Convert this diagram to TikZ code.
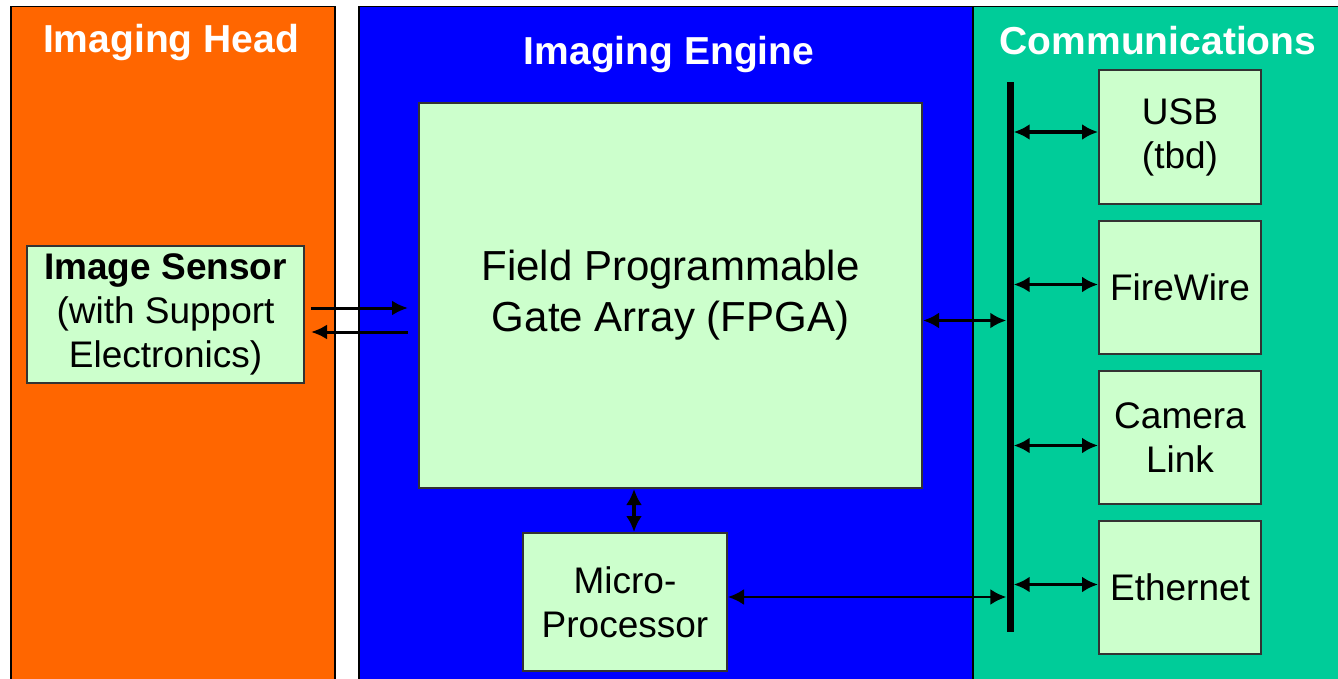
\documentclass[tikz,border=0pt]{standalone}
\usepackage{fontspec}
\setmainfont{Liberation Sans}
\usetikzlibrary{arrows.meta}
\definecolor{headorange}{HTML}{FF6600}
\definecolor{engineblue}{HTML}{0000FF}
\definecolor{commteal}{HTML}{00CC99}
\definecolor{boxgreen}{HTML}{CCFFCC}
\begin{document}
\begin{tikzpicture}
    [x=1pt, y=-1pt,
     panel/.style={draw=black, line width=1.5pt, anchor=north west, inner sep=0pt},
     title/.style={text=white, font=\fontsize{39}{44}\selectfont\bfseries},
     block/.style={draw=black!80, line width=2pt, fill=boxgreen, anchor=north west, inner sep=0pt, align=center, font=\fontsize{37}{44}\selectfont},
     link/.style={{Latex[length=16pt,width=16pt]}-{Latex[length=16pt,width=16pt]}, line width=3.5pt},
     oneway/.style={-{Latex[length=16pt,width=15pt]}, line width=3pt}]
    \useasboundingbox (0,0) rectangle (1338,679);
    % panels
    \node[panel, fill=headorange, minimum width=324pt, minimum height=690pt] (head) at (10,6) {};
    \node[panel, fill=engineblue, minimum width=614pt, minimum height=690pt] (engine) at (358,6) {};
    \node[panel, fill=commteal, minimum width=380pt, minimum height=690pt] (comm) at (972,6) {};
    \node[title] (headtitle) at (171,43) {Imaging Head};
    \node[title] (enginetitle) at (669,55) {Imaging Engine};
    \node[title] (commtitle) at (1158,41) {Communications};
    % blocks
    \node[block, minimum width=277pt, minimum height=137pt] (sensor) at (26,245) {\textbf{Image Sensor}\\(with Support\\Electronics)};
    \node[block, minimum width=503pt, minimum height=385pt, font=\fontsize{42}{51}\selectfont] (fpga) at (418,102) {Field Programmable\\Gate Array (FPGA)};
    \node[block, minimum width=204pt, minimum height=138pt] (micro) at (522,532) {Micro-\\Processor};
    \node[block, minimum width=162pt, minimum height=134pt] (usb) at (1098,69) {USB\\(tbd)};
    \node[block, minimum width=162pt, minimum height=133pt] (firewire) at (1098,220) {FireWire};
    \node[block, minimum width=162pt, minimum height=133pt] (camlink) at (1098,370) {Camera\\Link};
    \node[block, minimum width=162pt, minimum height=133pt] (ethernet) at (1098,520) {Ethernet};
    % bus
    \node[fill=black, inner sep=0pt, minimum width=7pt, minimum height=550pt] (bus) at (1010,357) {};
    % connectors
    \draw[oneway] ([xshift=6pt, yshift=6.5pt]sensor.east) -- ([xshift=-10pt, yshift=6.5pt]sensor.east -| fpga.west);
    \draw[oneway] ([xshift=-10pt, yshift=-17.5pt]sensor.east -| fpga.west) -- ([xshift=6pt, yshift=-17.5pt]sensor.east);
    \draw[link] ([yshift=-25pt]fpga.east) -- ([yshift=-25pt]fpga.east -| bus.west);
    \draw[link] ([xshift=9pt]micro.north) -- ([xshift=9pt]micro.north |- fpga.south);
    \draw[link, line width=2.5pt] ([yshift=5pt]micro.east) -- ([yshift=5pt]micro.east -| bus.west);
    \draw[link] ([yshift=5pt]usb.west -| bus.east) -- ([yshift=5pt]usb.west);
    \draw[link] ([yshift=3pt]firewire.west -| bus.east) -- ([yshift=3pt]firewire.west);
    \draw[link] ([yshift=-8pt]camlink.west -| bus.east) -- ([yshift=-8pt]camlink.west);
    \draw[link] ([yshift=3pt]ethernet.west -| bus.east) -- ([yshift=3pt]ethernet.west);
\end{tikzpicture}
\end{document}
